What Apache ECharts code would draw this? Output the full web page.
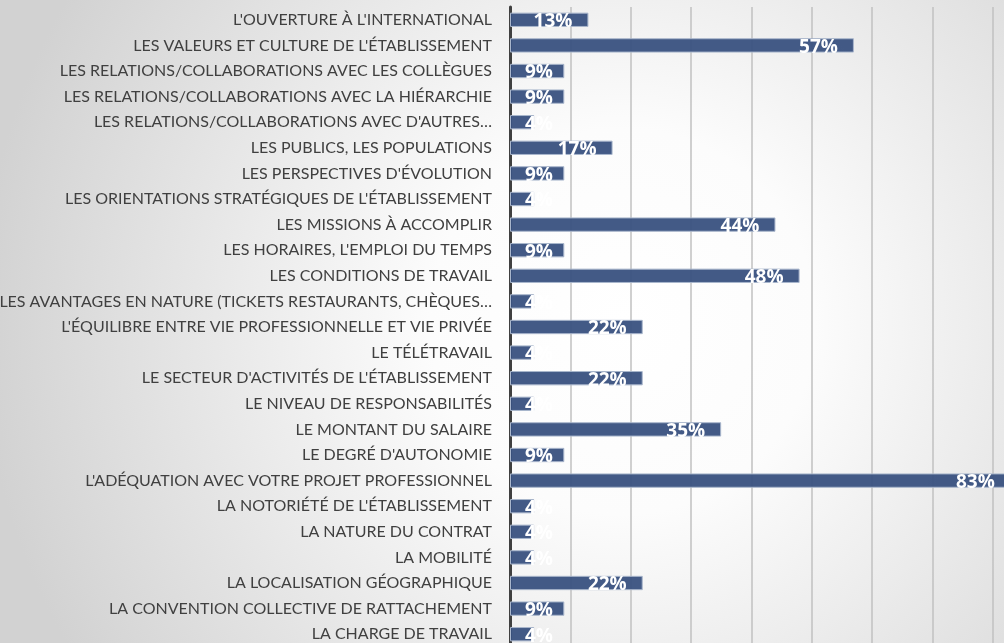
<!DOCTYPE html>
<html>
<head>
<meta charset="utf-8">
<script src="https://cdn.jsdelivr.net/npm/echarts@6/dist/echarts.min.js"></script>
<style>
  html, body { margin: 0; padding: 0; }
  #main { width: 1004px; height: 643px; }
</style>
</head>
<body>
<div id="main"></div>
<script>
// critères, de haut en bas
var categories = [
  "L'OUVERTURE À L'INTERNATIONAL",
  "LES VALEURS ET CULTURE DE L'ÉTABLISSEMENT",
  "LES RELATIONS/COLLABORATIONS AVEC LES COLLÈGUES",
  "LES RELATIONS/COLLABORATIONS AVEC LA HIÉRARCHIE",
  "LES RELATIONS/COLLABORATIONS AVEC D'AUTRES…",
  "LES PUBLICS, LES POPULATIONS",
  "LES PERSPECTIVES D'ÉVOLUTION",
  "LES ORIENTATIONS STRATÉGIQUES DE L'ÉTABLISSEMENT",
  "LES MISSIONS À ACCOMPLIR",
  "LES HORAIRES, L'EMPLOI DU TEMPS",
  "LES CONDITIONS DE TRAVAIL",
  "LES AVANTAGES EN NATURE (TICKETS RESTAURANTS, CHÈQUES…",
  "L'ÉQUILIBRE ENTRE VIE PROFESSIONNELLE ET VIE PRIVÉE",
  "LE TÉLÉTRAVAIL",
  "LE SECTEUR D'ACTIVITÉS DE L'ÉTABLISSEMENT",
  "LE NIVEAU DE RESPONSABILITÉS",
  "LE MONTANT DU SALAIRE",
  "LE DEGRÉ D'AUTONOMIE",
  "L'ADÉQUATION AVEC VOTRE PROJET PROFESSIONNEL",
  "LA NOTORIÉTÉ DE L'ÉTABLISSEMENT",
  "LA NATURE DU CONTRAT",
  "LA MOBILITÉ",
  "LA LOCALISATION GÉOGRAPHIQUE",
  "LA CONVENTION COLLECTIVE DE RATTACHEMENT",
  "LA CHARGE DE TRAVAIL"
];
// pourcentages
var values = [13, 57, 9, 9, 4, 17, 9, 4, 44, 9, 48, 4, 22, 4, 22, 4, 35, 9, 83, 4, 4, 4, 22, 9, 4];

var chart = echarts.init(document.getElementById('main'));

// petites barres : étiquette calée à gauche
var barData = values.map(function (v) {
  if (v < 10) {
    return { value: v, label: { position: 'insideLeft', distance: 15 } };
  }
  return v;
});

var option = {
  animation: false,
  backgroundColor: {
    type: 'radial',
    x: 0.62, y: 0.5, r: 1.0,
    colorStops: [
      { offset: 0, color: '#ffffff' },
      { offset: 0.3, color: '#fcfcfc' },
      { offset: 1, color: '#d2d2d2' }
    ]
  },
  grid: {
    left: 510,
    top: 7,
    width: 543,
    height: 640,
    containLabel: false,
    outerBoundsMode: 'none'
  },
  xAxis: {
    type: 'value',
    min: 0,
    max: 90,
    interval: 10,
    axisLabel: { show: false },
    axisLine: { show: false },
    axisTick: { show: false },
    splitLine: { show: true, lineStyle: { color: '#c0c0c0', width: 1.5 } }
  },
  yAxis: {
    type: 'category',
    inverse: true,
    data: categories,
    axisTick: { show: false },
    axisLine: { show: true, lineStyle: { color: '#404040', width: 3 } },
    axisLabel: {
      interval: 0,
      margin: 18,
      color: '#404040',
      fontFamily: 'Lato',
      fontSize: 16
    }
  },
  series: [
    {
      type: 'bar',
      data: barData,
      barCategoryGap: '44%',
      itemStyle: {
        color: 'rgba(57, 81, 128, 0.95)',
        borderColor: '#a9b6cc',
        borderWidth: 1
      },
      label: {
        show: true,
        position: 'insideRight',
        distance: 16,
        offset: [0, 2],
        color: '#ffffff',
        fontFamily: 'Open Sans',
        fontWeight: 'bold',
        fontSize: 19,
        formatter: '{c}%'
      }
    }
  ]
};

chart.setOption(option);
window.addEventListener('resize', function () {
  chart.resize();
});
</script>
</body>
</html>
